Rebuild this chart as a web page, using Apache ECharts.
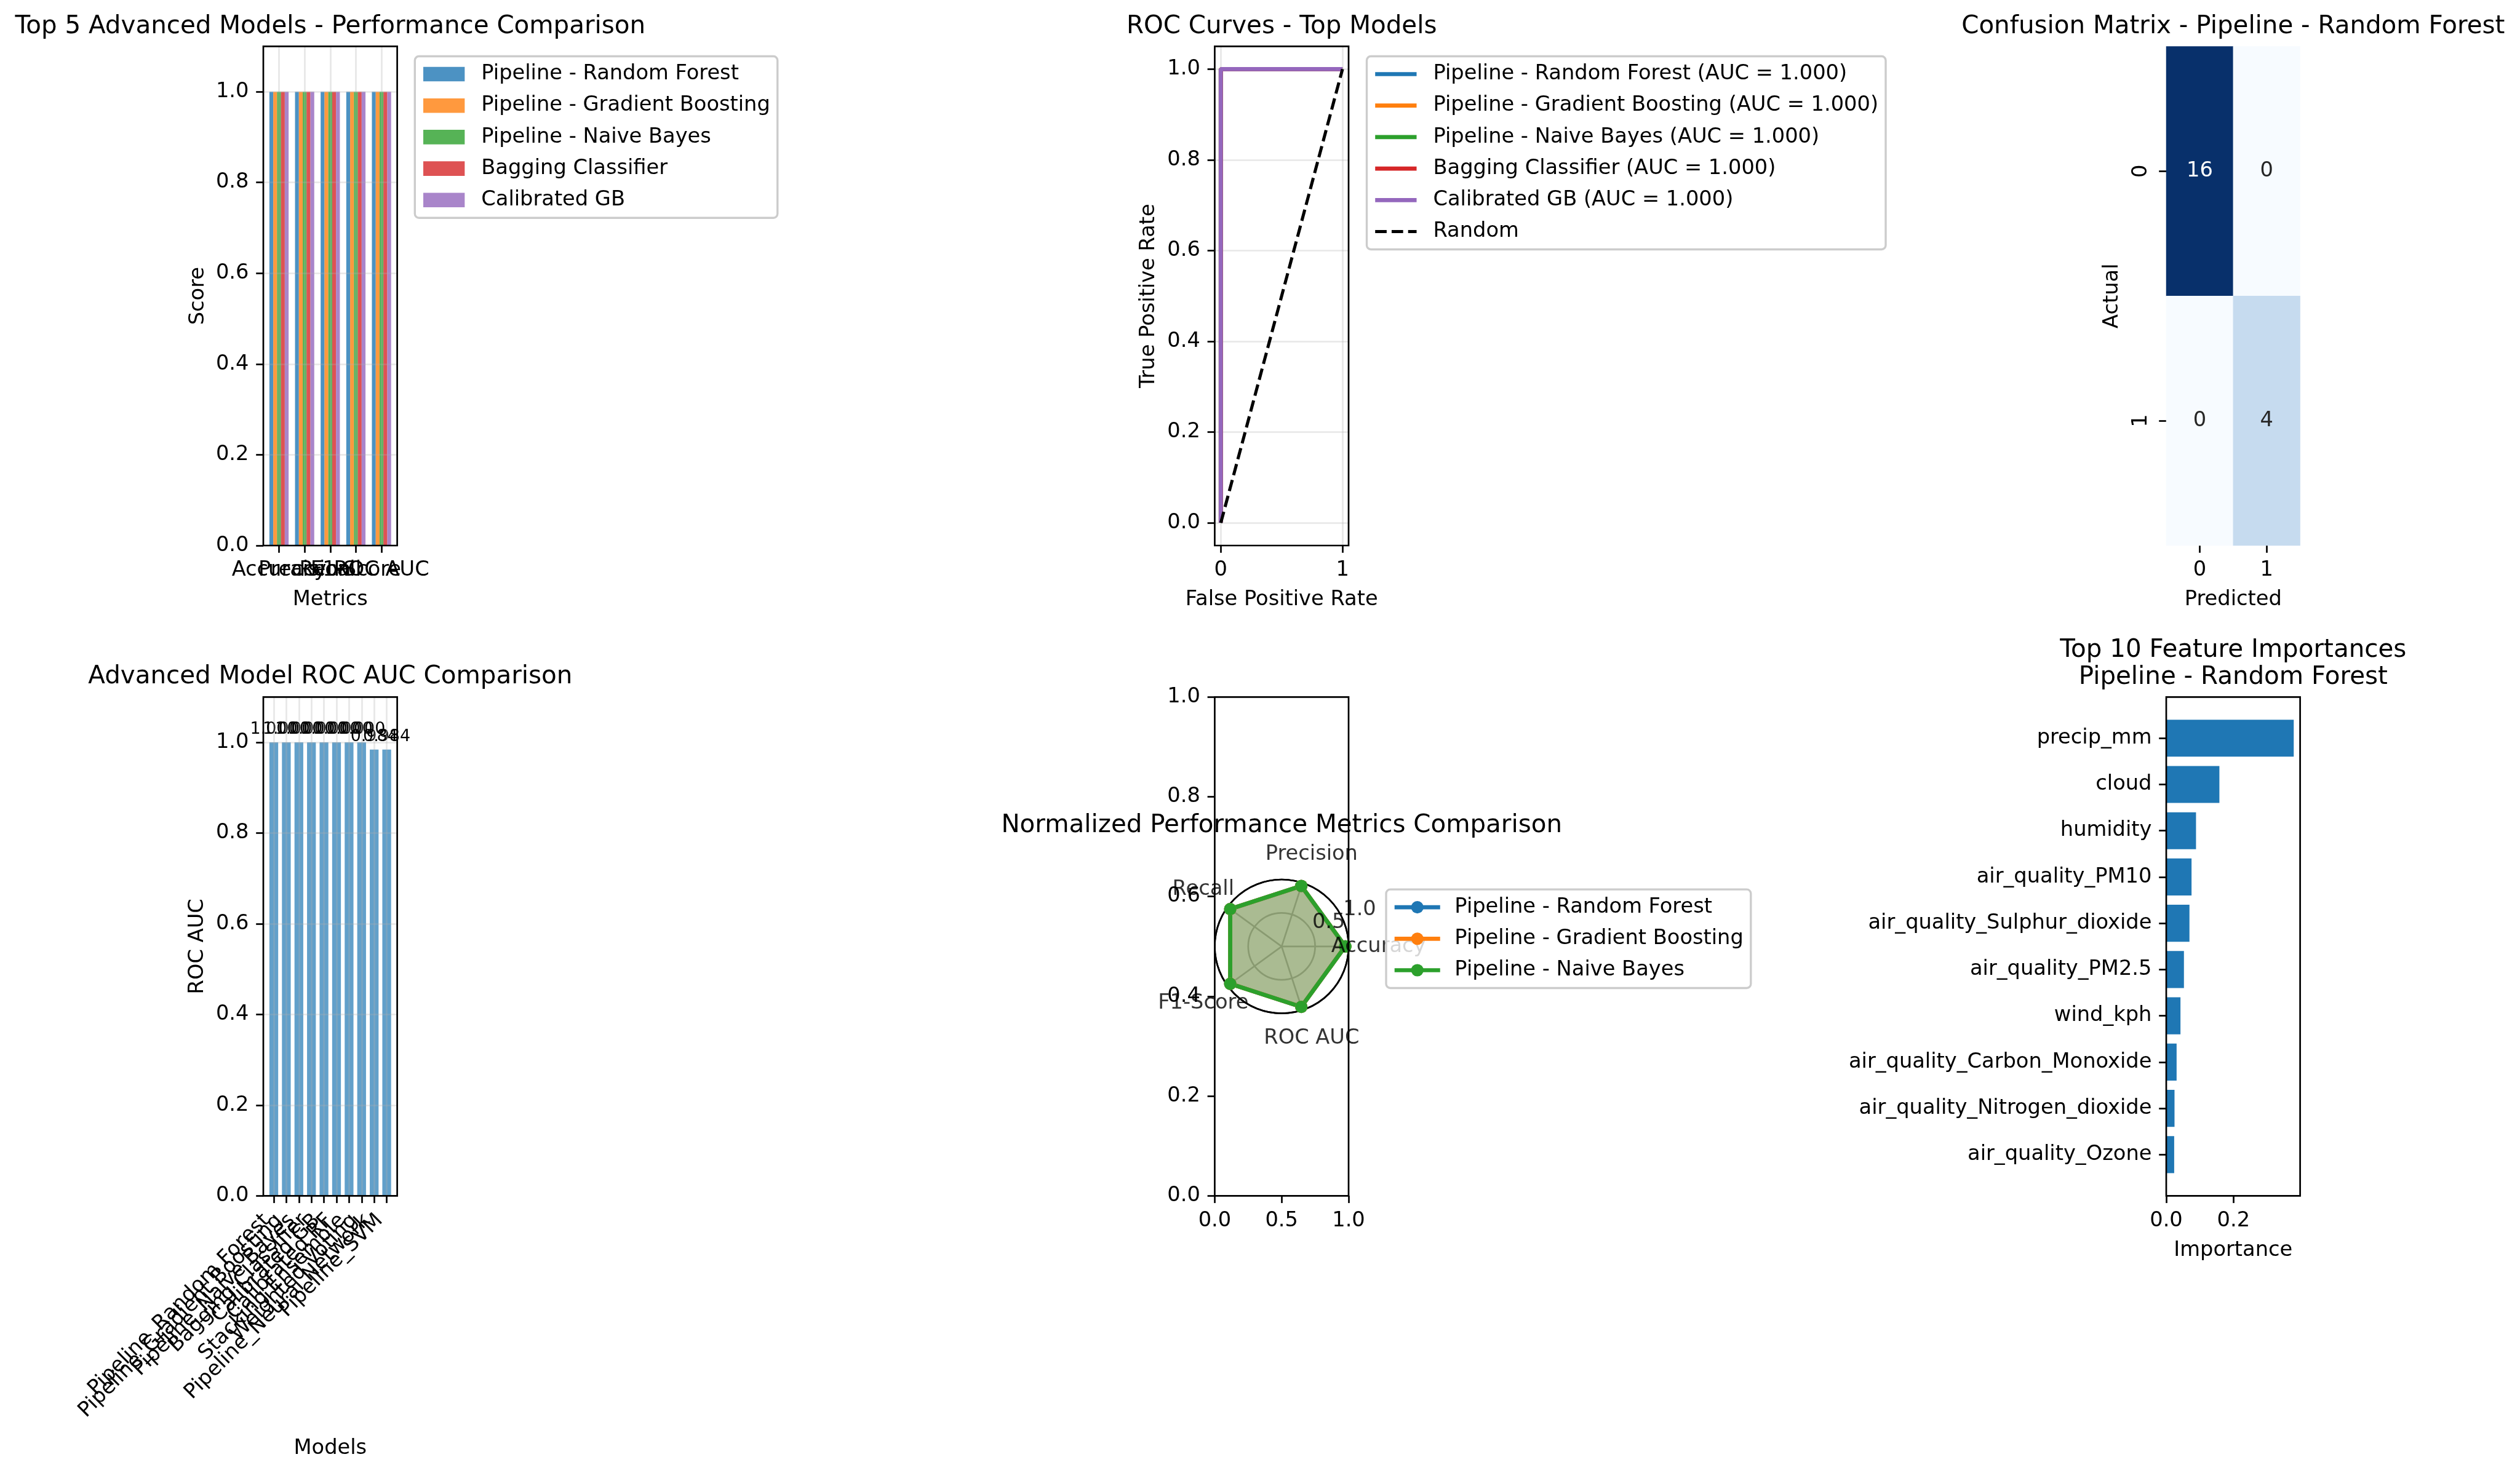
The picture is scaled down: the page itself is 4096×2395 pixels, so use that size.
<!DOCTYPE html>
<html><head><meta charset="utf-8">
<script src="https://cdn.jsdelivr.net/npm/echarts@6/dist/echarts.min.js"></script>
<style>html,body{margin:0;padding:0;background:#fff}#c{width:4096px;height:2395px}</style>
</head><body><div id="c"></div>
<script>
// ---------------- data ----------------
const metrics = ['Accuracy', 'Precision', 'Recall', 'F1-Score', 'ROC AUC'];
const topModels = ['Pipeline - Random Forest', 'Pipeline - Gradient Boosting', 'Pipeline - Naive Bayes', 'Bagging Classifier', 'Calibrated GB'];
const topScores = [
  [1.0, 1.0, 1.0, 1.0, 1.0],
  [1.0, 1.0, 1.0, 1.0, 1.0],
  [1.0, 1.0, 1.0, 1.0, 1.0],
  [1.0, 1.0, 1.0, 1.0, 1.0],
  [1.0, 1.0, 1.0, 1.0, 1.0]
];
const rocAuc = [1.0, 1.0, 1.0, 1.0, 1.0];
const rocFpr = [[0, 0, 1], [0, 0, 1], [0, 0, 1], [0, 0, 1], [0, 0, 1]];
const rocTpr = [[0, 1, 1], [0, 1, 1], [0, 1, 1], [0, 1, 1], [0, 1, 1]];
const randomFpr = [0, 1];
const randomTpr = [0, 1];
const cmLabels = ['0', '1'];
const confusion = [[16, 0], [0, 4]];
const aucModels = ['Pipeline_Random Forest', 'Pipeline_Gradient Boosting', 'Pipeline_Naive Bayes', 'Bagging Classifier', 'Calibrated GB', 'Calibrated RF', 'Stacking Ensemble', 'Weighted Voting', 'Pipeline_Neural Network', 'Pipeline_SVM'];
const aucValues = [1.000, 1.000, 1.000, 1.000, 1.000, 1.000, 1.000, 1.000, 0.984, 0.984];
const radarModels = ['Pipeline - Random Forest', 'Pipeline - Gradient Boosting', 'Pipeline - Naive Bayes'];
const radarValues = [
  [0.95, 0.95, 0.95, 0.95, 0.95],
  [0.95, 0.95, 0.95, 0.95, 0.95],
  [0.95, 0.95, 0.95, 0.95, 0.95]
];
const radialTicks = [0.5, 1.0];
const features = ['precip_mm', 'cloud', 'humidity', 'air_quality_PM10', 'air_quality_Sulphur_dioxide', 'air_quality_PM2.5', 'wind_kph', 'air_quality_Carbon_Monoxide', 'air_quality_Nitrogen_dioxide', 'air_quality_Ozone'];
const importances = [0.379, 0.158, 0.0885, 0.0752, 0.069, 0.0526, 0.0423, 0.0308, 0.0246, 0.0236];

// ---------------- style ----------------
const S = 4096 / 5070;
const pt = v => v * 300 / 72 * S;
const FS10 = pt(10), FS12 = pt(12), FS8 = pt(8);
const LW = pt(0.8), LW2 = pt(2), LW15 = pt(1.5), TICK = pt(3.5), MARGIN = pt(7), MS = pt(6);
const FONT = 'DejaVu Sans';
const tab = ['#1f77b4', '#ff7f0e', '#2ca02c', '#d62728', '#9467bd'];
const rgba = (hex, a) => 'rgba(' + parseInt(hex.slice(1, 3), 16) + ',' + parseInt(hex.slice(3, 5), 16) + ',' + parseInt(hex.slice(5, 7), 16) + ',' + a + ')';
const blues = ['#f7fbff', '#deebf7', '#c6dbef', '#9ecae1', '#6baed6', '#4292c6', '#2171b5', '#08519c', '#08306b'];

const COLX = [428.0, 1974.4, 3521.0], COLW = 217.6;
const ROWY = [75.4, 1133.3], ROWH = [811.6, 811.0];
const box = (c, r) => ({ l: COLX[c], t: ROWY[r], w: COLW, h: ROWH[r] });

const noLine = { show: false, onZero: false };
const tick = { show: true, inside: false, length: TICK, interval: 0, lineStyle: { color: '#000', width: LW } };
const lab = extra => Object.assign({ show: true, color: '#000', fontFamily: FONT, fontSize: FS10, margin: MARGIN }, extra || {});
const gridLine = { show: true, interval: 0, lineStyle: { color: 'rgba(176,176,176,0.3)', width: LW } };
const hidden = (min, max) => ({ type: 'value', show: false, min: min, max: max, axisLine: { onZero: false } });

const grid = [], xAxis = [], yAxis = [], series = [];
function G(l, t, w, h, xa, ya, border) {
  const i = grid.length;
  grid.push({ left: l, top: t, width: w, height: h, containLabel: false, show: !!border,
    borderColor: '#000', borderWidth: border ? LW : 0, backgroundColor: 'rgba(0,0,0,0)', z: border ? 6 : 0 });
  xAxis.push(Object.assign({ gridIndex: i }, xa));
  yAxis.push(Object.assign({ gridIndex: i }, ya));
  return i;
}
const frame = b => G(b.l, b.t, b.w, b.h, hidden(0, 1), hidden(0, 1), true);
function yGrid(b, lo, hi, dmin, dmax, interval, fmt, split, z) {
  const k = b.h / (dmax - dmin);
  return G(b.l, b.t + (dmax - hi) * k, b.w, (hi - lo) * k, hidden(0, 1),
    { type: 'value', min: lo, max: hi, interval: interval, axisLine: noLine, axisTick: tick,
      axisLabel: lab({ formatter: fmt }), splitLine: split ? gridLine : { show: false }, z: z || 0 });
}
function xGrid(b, lo, hi, dmin, dmax, interval, fmt, split, z, yd) {
  const k = b.w / (dmax - dmin);
  return G(b.l + (lo - dmin) * k, b.t, (hi - lo) * k, b.h,
    { type: 'value', min: lo, max: hi, interval: interval, axisLine: noLine, axisTick: tick,
      axisLabel: lab({ formatter: fmt }), splitLine: split ? gridLine : { show: false }, z: z || 0 },
    hidden(yd ? yd[0] : 0, yd ? yd[1] : 1));
}
const f1 = v => v.toFixed(1);

// ---------------- panel 1: grouped bars ----------------
const b1 = box(0, 0);
frame(b1);
yGrid(b1, 0, 1, 0, 1.1, 0.2, f1, true, 3);
{
  const bw = 0.15, half = bw * topModels.length / 2;
  const lo = -half - 0.05 * (metrics.length - 1 + 2 * half), hi = metrics.length - 1 + half + 0.05 * (metrics.length - 1 + 2 * half);
  const u = b1.w / (hi - lo);
  const gi = G(b1.l + (0 - lo) * u, b1.t, (metrics.length - 1) * u, b1.h,
    { type: 'category', data: metrics, boundaryGap: false, axisLine: noLine, axisTick: tick,
      axisLabel: lab({ interval: 0 }), splitLine: gridLine, z: 3 }, hidden(0, 1.1));
  topModels.forEach((m, k) => series.push({ type: 'bar', name: 'p1|' + m, xAxisIndex: gi, yAxisIndex: gi,
    data: topScores[k], barWidth: bw * u, barGap: '0%', clip: false, itemStyle: { color: rgba(tab[k], 0.8) } }));
}

// ---------------- panel 2: ROC ----------------
const b2 = box(1, 0);
frame(b2);
yGrid(b2, 0, 1, -0.05, 1.05, 0.2, f1, true, 0);
{
  const gi = xGrid(b2, 0, 1, -0.05, 1.05, 1, v => String(v), true, 0, [-0.05, 1.05]);
  topModels.forEach((m, k) => series.push({ type: 'line', name: m + ' (AUC = ' + rocAuc[k].toFixed(3) + ')',
    xAxisIndex: gi, yAxisIndex: gi, data: rocFpr[k].map((f, j) => [f, rocTpr[k][j]]), symbol: 'none', clip: false,
    lineStyle: { color: tab[k], width: LW2 }, itemStyle: { color: tab[k] }, z: 2 }));
  series.push({ type: 'line', name: 'Random', xAxisIndex: gi, yAxisIndex: gi,
    data: randomFpr.map((f, j) => [f, randomTpr[j]]), symbol: 'none', clip: false,
    lineStyle: { color: '#000', width: LW15, type: [pt(5.55), pt(2.4)] }, itemStyle: { color: '#000' }, z: 3 });
}

// ---------------- panel 3: confusion matrix ----------------
const b3 = box(2, 0);
let heatIndex;
{
  const gi = G(b3.l, b3.t, b3.w, b3.h,
    { type: 'category', data: cmLabels, axisLine: noLine, axisTick: Object.assign({ alignWithLabel: true }, tick),
      axisLabel: lab({ interval: 0 }), splitLine: { show: false } },
    { type: 'category', data: cmLabels, inverse: true, axisLine: noLine, axisTick: Object.assign({ alignWithLabel: true }, tick),
      axisLabel: lab({ interval: 0, rotate: 90 }), splitLine: { show: false } }, false);
  heatIndex = series.length;
  series.push({ type: 'heatmap', xAxisIndex: gi, yAxisIndex: gi,
    data: confusion.flatMap((row, i) => row.map((v, j) => ({ value: [j, i, v], label: { color: v > 8 ? '#ffffff' : '#262626' } }))),
    label: { show: true, fontFamily: FONT, fontSize: FS10, formatter: p => String(p.value[2]) },
    emphasis: { disabled: true } });
}

// ---------------- panel 4: ROC AUC bars ----------------
const b4 = box(0, 1);
frame(b4);
yGrid(b4, 0, 1, 0, 1.1, 0.2, f1, true, 3);
{
  const bw = 0.7, n = aucModels.length;
  const lo = -bw / 2 - 0.05 * (n - 1 + bw), hi = n - 1 + bw / 2 + 0.05 * (n - 1 + bw);
  const u = b4.w / (hi - lo);
  const uy = b4.h / 1.1;
  const gi = G(b4.l + (0 - lo) * u, b4.t, (n - 1) * u, b4.h,
    { type: 'category', data: aucModels, boundaryGap: false, axisLine: noLine, axisTick: tick,
      axisLabel: lab({ interval: 0, rotate: 45, padding: [0, 0.354 * 0.97 * FS10 * Math.SQRT2, 0, 0] }),
      splitLine: gridLine, z: 3 }, hidden(0, 1.1));
  series.push({ type: 'bar', name: 'auc', xAxisIndex: gi, yAxisIndex: gi, data: aucValues, barWidth: bw * u, clip: false,
    itemStyle: { color: rgba('#1f77b4', 0.7) },
    label: { show: true, position: 'top', distance: 0.01 * uy, formatter: p => p.value.toFixed(3), color: '#000', fontFamily: FONT, fontSize: FS8 } });
}

// ---------------- panel 5: radar ----------------
const b5 = box(1, 1);
G(b5.l, b5.t, b5.w, b5.h,
  { type: 'value', min: 0, max: 1, interval: 0.5, axisLine: noLine, axisTick: tick, axisLabel: lab({ formatter: f1 }), splitLine: { show: false } },
  { type: 'value', min: 0, max: 1, interval: 0.2, axisLine: noLine, axisTick: tick, axisLabel: lab({ formatter: f1 }), splitLine: { show: false } }, true);
const cx = b5.l + b5.w / 2, cy = b5.t + b5.h / 2, R = b5.w / 2;
const step = 360 / metrics.length;
radarModels.forEach((m, k) => {
  const pts = radarValues[k].map((v, i) => [v, i * step]);
  pts.push([radarValues[k][0], 360]);
  series.push({ type: 'line', coordinateSystem: 'polar', polarIndex: 0, name: 'p5|' + m, data: pts,
    symbol: 'circle', symbolSize: MS, showSymbol: true, clip: false,
    lineStyle: { color: tab[k], width: LW2 }, itemStyle: { color: tab[k] },
    areaStyle: { color: tab[k], opacity: 0.25 }, z: 3 });
});
series.push({ type: 'scatter', coordinateSystem: 'polar', polarIndex: 0, clip: false, silent: true, z: 5,
  data: metrics.map((m, i) => ({ name: m, value: [157.5 / R, i * step] })), symbolSize: 1,
  itemStyle: { color: 'rgba(0,0,0,0)' },
  label: { show: true, position: 'inside', formatter: p => p.name, color: '#000', fontFamily: FONT, fontSize: FS10 } });
series.push({ type: 'scatter', coordinateSystem: 'polar', polarIndex: 0, clip: false, silent: true, z: 5,
  data: radialTicks.map(r => ({ value: [r, 22.5] })), symbolSize: 1, itemStyle: { color: 'rgba(0,0,0,0)' },
  label: { show: true, position: [0, 0], align: 'left', verticalAlign: 'bottom', formatter: p => p.value[0].toFixed(1),
    color: '#000', fontFamily: FONT, fontSize: FS10 } });

// ---------------- panel 6: feature importances ----------------
const b6 = box(2, 1);
frame(b6);
{
  const n = features.length;
  const xmax = Math.max.apply(null, importances) * 1.05;
  const uy = b6.h / (1.1 * (n - 1 + 0.8));
  const off = (0.4 + 0.05 * (n - 1 + 0.8)) * uy;
  const gi = G(b6.l, b6.t + off, b6.w, (n - 1) * uy, hidden(0, xmax),
    { type: 'category', data: features, inverse: true, boundaryGap: false, axisLine: noLine, axisTick: tick,
      axisLabel: lab({ interval: 0 }), splitLine: { show: false } });
  series.push({ type: 'bar', name: 'imp', xAxisIndex: gi, yAxisIndex: gi, data: importances, barWidth: 0.8 * uy, clip: false,
    itemStyle: { color: '#1f77b4' } });
  xGrid(b6, 0, 0.2, 0, xmax, 0.2, f1, false, 0);
}

// ---------------- texts ----------------
const mid = b => b.l + b.w / 2;
const texts = [
  { t: 'Top 5 Advanced Models - Performance Comparison', x: mid(b1), y: 43.5, fs: FS12 },
  { t: 'ROC Curves - Top Models', x: mid(b2), y: 43.5, fs: FS12 },
  { t: 'Confusion Matrix - Pipeline - Random Forest', x: mid(b3), y: 43.5, fs: FS12 },
  { t: 'Advanced Model ROC AUC Comparison', x: mid(b4), y: 1101, fs: FS12 },
  { t: 'Normalized Performance Metrics Comparison', x: cx, y: 1342.7, fs: FS12 },
  { t: 'Top 10 Feature Importances', x: mid(b6), y: 1057.6, fs: FS12 },
  { t: 'Pipeline - Random Forest', x: mid(b6), y: 1101.1, fs: FS12 },
  { t: 'Metrics', x: mid(b1), y: 974.8, fs: FS10 },
  { t: 'Score', x: 322, y: b1.t + b1.h / 2, fs: FS10, rot: Math.PI / 2 },
  { t: 'False Positive Rate', x: mid(b2), y: 974.8, fs: FS10 },
  { t: 'True Positive Rate', x: 1867.5, y: b2.t + b2.h / 2, fs: FS10, rot: Math.PI / 2 },
  { t: 'Predicted', x: mid(b3), y: 974.8, fs: FS10 },
  { t: 'Actual', x: 3433.5, y: b3.t + b3.h / 2, fs: FS10, rot: Math.PI / 2 },
  { t: 'Models', x: mid(b4), y: 2355.3, fs: FS10 },
  { t: 'ROC AUC', x: 321, y: b4.t + b4.h / 2, fs: FS10, rot: Math.PI / 2 },
  { t: 'Importance', x: mid(b6), y: 2033.3, fs: FS10 }
];

const legendBase = {
  orient: 'vertical', selectedMode: false, itemGap: 17.2, padding: [12, 12, 12, 13.7],
  borderColor: '#cccccc', borderWidth: pt(1), borderRadius: pt(2), backgroundColor: 'rgba(255,255,255,0.8)',
  textStyle: { fontFamily: FONT, fontSize: FS10, color: '#000', lineHeight: FS10, padding: [0, 0, 0, pt(8) - 5] },
  itemStyle: { borderWidth: 0 }, z: 10
};
const dashPath = 'path://M0,0H' + pt(5.55).toFixed(2) + 'V' + LW15.toFixed(2) + 'H0Z M' + pt(7.95).toFixed(2) + ',0H' + pt(13.5).toFixed(2) + 'V' + LW15.toFixed(2) + 'H' + pt(7.95).toFixed(2) + 'Z M' + pt(15.9).toFixed(2) + ',0H' + pt(20).toFixed(2) + 'V' + LW15.toFixed(2) + 'H' + pt(15.9).toFixed(2) + 'Z';
const legends = [
  Object.assign({}, legendBase, { left: 674.3, top: 91.5, itemWidth: pt(20), itemHeight: pt(7),
    data: topModels.map(m => ({ name: 'p1|' + m, icon: 'rect' })), formatter: n => n.split('|')[1] }),
  Object.assign({}, legendBase, { left: 2221.5, top: 91.5, itemWidth: pt(20), itemHeight: LW2,
    data: topModels.map((m, k) => ({ name: m + ' (AUC = ' + rocAuc[k].toFixed(3) + ')', icon: 'rect' })).concat([{ name: 'Random', icon: dashPath }]) }),
  Object.assign({}, legendBase, { left: 2253, top: 1446.1, itemWidth: pt(20), itemHeight: MS / 0.8,
    lineStyle: { width: LW2, cap: 'square' },
    data: radarModels.map(m => ({ name: 'p5|' + m })), formatter: n => n.split('|')[1] })
];

const option = {
  animation: false, backgroundColor: '#ffffff', textStyle: { fontFamily: FONT },
  grid: grid, xAxis: xAxis, yAxis: yAxis, series: series, legend: legends,
  visualMap: [{ show: false, type: 'continuous', min: 0, max: 16, seriesIndex: heatIndex, dimension: 2, inRange: { color: blues } }],
  polar: [{ center: [cx, cy], radius: R }],
  angleAxis: [{ polarIndex: 0, type: 'value', min: 0, max: 360, interval: step, startAngle: 0, clockwise: false, z: 2,
    axisLine: { show: true, lineStyle: { color: '#000', width: LW } }, axisTick: { show: false }, axisLabel: { show: false },
    splitLine: { show: true, lineStyle: { color: '#b0b0b0', width: LW } } }],
  radiusAxis: [{ polarIndex: 0, type: 'value', min: 0, max: 1, interval: 0.5, z: 1,
    axisLine: { show: false }, axisTick: { show: false }, axisLabel: { show: false },
    splitLine: { show: true, lineStyle: { color: ['#b0b0b0', '#b0b0b0', '#000000'], width: LW } } }],
  graphic: texts.map(o => ({ type: 'text', x: o.x, y: o.y, rotation: o.rot || 0, silent: true, z: 20,
    style: { text: o.t, fill: '#000', fontFamily: FONT, fontSize: o.fs, align: 'center', verticalAlign: 'middle' } }))
};
const chart = echarts.init(document.getElementById('c'), null, { renderer: 'canvas', width: 4096, height: 2395 });
chart.setOption(option);
</script></body></html>
